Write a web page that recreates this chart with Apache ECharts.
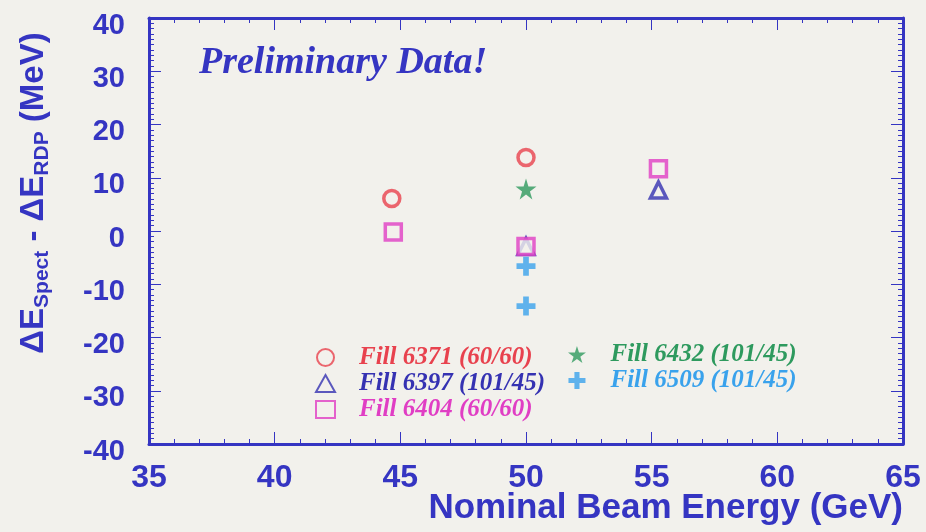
<!DOCTYPE html>
<html><head><meta charset="utf-8">
<script src="https://cdn.jsdelivr.net/npm/echarts@6/dist/echarts.min.js"></script>
<style>html,body{margin:0;padding:0;background:#f2f1ec}#c{width:926px;height:532px}</style>
</head><body><div id="c"></div>
<script>
const xTicks = [35, 40, 45, 50, 55, 60, 65];
const yTicks = [-40, -30, -20, -10, 0, 10, 20, 30, 40];
const fill6371 = [[44.66, 6.1], [50.0, 13.8]];
const fill6397 = [[50.0, -2.9], [55.27, 7.7]];
const fill6404 = [[44.72, -0.2], [50.0, -2.9], [55.27, 11.7]];
const fill6432 = [[50.0, 7.9]];
const fill6509 = [[50.0, -6.6], [50.0, -14.1]];

const AX = '#3535c2';
const BG = '#f2f1ec';
const starPath = 'path://M50,0 L61,35 L98,35 L68,57 L79,91 L50,70 L21,91 L32,57 L2,35 L39,35 Z';
const crossPath = 'path://M35,0 L65,0 L65,35 L100,35 L100,65 L65,65 L65,100 L35,100 L35,65 L0,65 L0,35 L35,35 Z';

const defs = [
  {name: 'Fill 6371 (60/60)', data: fill6371, symbol: 'circle', size: 16, color: '#e8424e', hollow: true},
  {name: 'Fill 6397 (101/45)', data: fill6397, symbol: 'triangle', size: 16, color: '#3532b2', hollow: true},
  {name: 'Fill 6404 (60/60)', data: fill6404, symbol: 'rect', size: 16, color: '#e03ec4', hollow: true},
  {name: 'Fill 6432 (101/45)', data: fill6432, symbol: starPath, size: 21, color: '#2e9a5e', hollow: false},
  {name: 'Fill 6509 (101/45)', data: fill6509, symbol: crossPath, size: 19, color: '#39a2ec', hollow: false}
];
const series = defs.map(s => ({
  type: 'scatter', name: s.name, data: s.data, symbol: s.symbol, symbolSize: s.size,
  itemStyle: s.hollow ? {color: BG, borderColor: s.color, borderWidth: 3.5}
                      : {color: s.color, borderColor: s.color, borderWidth: 0},
  xAxisIndex: 0, yAxisIndex: 0, z: 5
}));

const legendText = (n, c) => ({name: n, textStyle: {color: c}});
const legendCommon = {
  orient: 'vertical', itemGap: 1, itemWidth: 19, itemHeight: 17, selectedMode: false,
  textStyle: {fontFamily: 'Liberation Serif', fontStyle: 'italic', fontWeight: 'bold', fontSize: 25,
    lineHeight: 22, padding: [0, 0, 0, 19]}
};
const baseAxis = {
  axisLine: {show: true, onZero: false, lineStyle: {color: AX, width: 3}},
  axisTick: {show: true, inside: true, length: 12, lineStyle: {color: AX, width: 1}},
  minorTick: {show: true, length: 5, lineStyle: {color: AX, width: 1}},
  splitLine: {show: false}
};

const chart = echarts.init(document.getElementById('c'), null, {renderer: 'canvas'});
chart.setOption({
  backgroundColor: BG,
  animation: false,
  grid: {left: 149, right: 23, top: 18, bottom: 88, containLabel: false, outerBoundsMode: 'none'},
  xAxis: [
    Object.assign({}, baseAxis, {
      type: 'value', min: 35, max: 65, interval: 5, position: 'bottom',
      minorTick: Object.assign({}, baseAxis.minorTick, {splitNumber: 5}),
      axisLabel: {color: AX, fontFamily: 'Liberation Sans', fontWeight: 'bold', fontSize: 32, margin: 18,
        formatter: v => xTicks.includes(v) ? String(v) : ''}
    }),
    Object.assign({}, baseAxis, {
      type: 'value', min: 35, max: 65, interval: 5, position: 'top',
      minorTick: Object.assign({}, baseAxis.minorTick, {splitNumber: 5}),
      axisLabel: {show: false}
    })
  ],
  yAxis: [
    Object.assign({}, baseAxis, {
      type: 'value', min: -40, max: 40, interval: 10, position: 'left',
      minorTick: Object.assign({}, baseAxis.minorTick, {splitNumber: 10}),
      axisLabel: {color: AX, fontFamily: 'Liberation Sans', fontWeight: 'bold', fontSize: 29, margin: 24,
        verticalAlign: 'top', lineHeight: 15,
        formatter: v => yTicks.includes(v) ? String(v) : ''}
    }),
    Object.assign({}, baseAxis, {
      type: 'value', min: -40, max: 40, interval: 10, position: 'right',
      minorTick: Object.assign({}, baseAxis.minorTick, {splitNumber: 10}),
      axisLabel: {show: false}
    })
  ],
  legend: [
    Object.assign({}, legendCommon, {
      left: 310, top: 340,
      data: [legendText('Fill 6371 (60/60)', '#e8424e'), legendText('Fill 6397 (101/45)', '#3532b2'), legendText('Fill 6404 (60/60)', '#e03ec4')]
    }),
    Object.assign({}, legendCommon, {
      left: 563, top: 337,
      data: [legendText('Fill 6432 (101/45)', '#2e9a5e'), legendText('Fill 6509 (101/45)', '#39a2ec')]
    })
  ],
  graphic: [
    {type: 'text', left: 199, top: 44, style: {text: 'Preliminary Data!', fill: AX,
      font: 'italic bold 38px "Liberation Serif"'}},
    {type: 'text', x: 903, y: 491, style: {text: 'Nominal Beam Energy (GeV)', fill: AX, align: 'right',
      verticalAlign: 'top', font: 'bold 35px "Liberation Sans"'}},
    {type: 'text', x: 34, y: 193, rotation: Math.PI / 2, style: {
      text: '{m|ΔE}{s|Spect}{m| - ΔE}{s|RDP}{m| (MeV)}', fill: AX, align: 'center', verticalAlign: 'middle',
      rich: {
        m: {fontFamily: 'Liberation Sans', fontWeight: 'bold', fontSize: 33, fill: AX},
        s: {fontFamily: 'Liberation Sans', fontWeight: 'bold', fontSize: 21, fill: AX, padding: [16, 0, 0, 0]}
      }
    }}
  ],
  series: series
});
</script></body></html>
